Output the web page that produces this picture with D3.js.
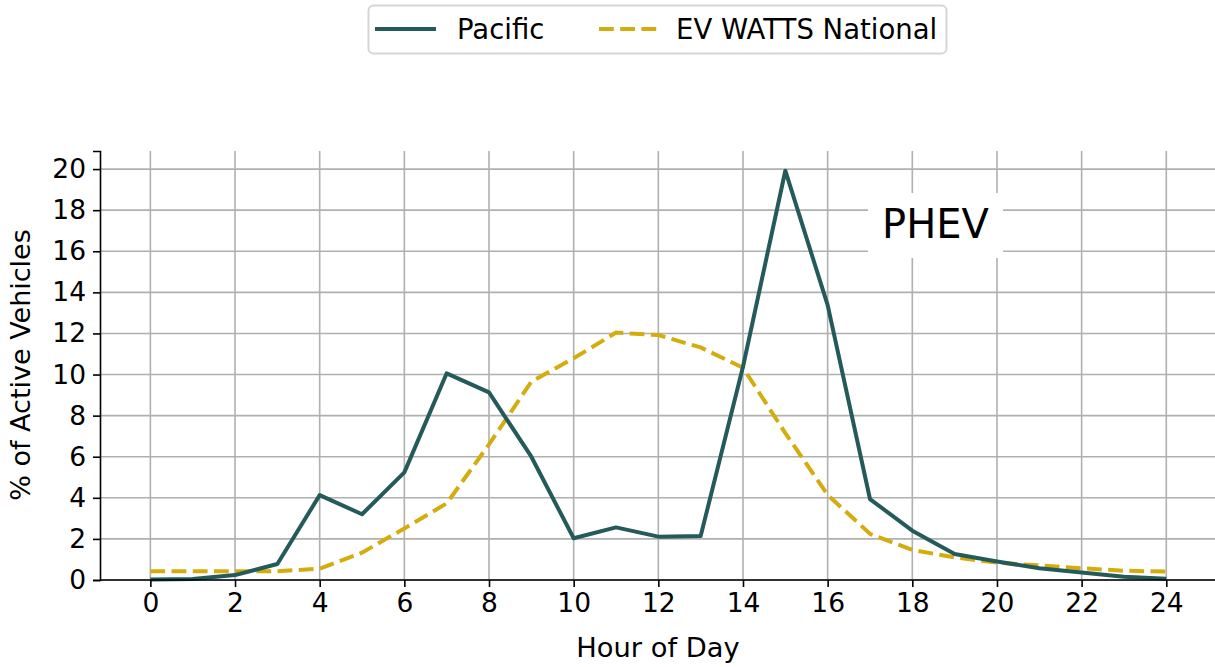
<!DOCTYPE html>
<html>
<head>
<meta charset="utf-8">
<script src="https://cdn.jsdelivr.net/npm/d3@7"></script>
<style>
  body { margin: 0; background: #fff; }
  svg { font-family: "DejaVu Sans", sans-serif; }
</style>
</head>
<body>
<script>
const hours = d3.range(0, 25);
const pacific = [0.03, 0.05, 0.24, 0.78, 4.13, 3.2, 5.24, 10.06, 9.13, 6.0, 2.03, 2.56, 2.11,
                 2.14, 10.38, 19.92, 13.38, 3.94, 2.4, 1.27, 0.9, 0.57, 0.37, 0.16, 0.06];
const national = [0.42, 0.43, 0.42, 0.43, 0.55, 1.33, 2.51, 3.73, 6.6, 9.65, 10.79, 12.04, 11.92,
                  11.32, 10.33, 7.15, 4.14, 2.25, 1.46, 1.1, 0.84, 0.71, 0.57, 0.45, 0.41];
const xTicks = d3.range(0, 25, 2);
const yTicks = d3.range(0, 21, 2);
const seriesNames = ["Pacific", "EV WATTS National"];

const W = 1215, H = 667;
const TEAL = "#245a5a", GOLD = "#d4ac0d";

const x = d3.scaleLinear().domain([-1.19, 25.2]).range([100, 100 + 26.39 * 42.33]);
const y = d3.scaleLinear().domain([0, 20.88]).range([580, 151]);

const svg = d3.select("body").append("svg")
  .attr("width", W)
  .attr("height", H);

// grid
svg.append("g")
  .selectAll("line")
  .data(xTicks)
  .join("line")
    .attr("x1", d => x(d)).attr("x2", d => x(d))
    .attr("y1", y(20.88)).attr("y2", y(0))
    .attr("stroke", "#b0b0b0").attr("stroke-width", 1.6);

svg.append("g")
  .selectAll("line")
  .data(yTicks)
  .join("line")
    .attr("x1", x(-1.19)).attr("x2", W)
    .attr("y1", d => y(d)).attr("y2", d => y(d))
    .attr("stroke", "#b0b0b0").attr("stroke-width", 1.6);

// PHEV label box (hides grid behind it)
svg.append("rect")
  .attr("x", 868).attr("y", 193).attr("width", 135).attr("height", 65)
  .attr("fill", "#fff");
svg.append("text")
  .attr("x", 935.5).attr("y", 238)
  .attr("text-anchor", "middle")
  .attr("font-size", 40)
  .text("PHEV");

// lines
const line = d3.line().x((d, i) => x(hours[i])).y(d => y(d));

svg.append("path")
  .datum(national)
  .attr("d", line)
  .attr("fill", "none")
  .attr("stroke", GOLD)
  .attr("stroke-width", 4)
  .attr("stroke-dasharray", "14.8,6.4");

svg.append("path")
  .datum(pacific)
  .attr("d", line)
  .attr("fill", "none")
  .attr("stroke", TEAL)
  .attr("stroke-width", 4)
  .attr("stroke-linejoin", "round");

// axes
const xAxis = svg.append("g")
  .attr("transform", `translate(0, ${y(0)})`)
  .call(d3.axisBottom(x).tickValues(xTicks).tickSize(7).tickPadding(6));
const yAxis = svg.append("g")
  .attr("transform", `translate(${x(-1.19)}, 0)`)
  .call(d3.axisLeft(y).tickValues(yTicks).tickSize(7).tickPadding(7));

[xAxis, yAxis].forEach(g => {
  g.selectAll(".domain").attr("stroke", "#000").attr("stroke-width", 1.6);
  g.selectAll(".tick line").attr("stroke", "#000").attr("stroke-width", 1.6);
  g.selectAll(".tick text")
    .attr("font-family", "DejaVu Sans")
    .attr("font-size", 26.5)
    .attr("fill", "#000");
});
xAxis.select(".domain").attr("d", `M${x(-1.19)},0H${W}`);

svg.append("text")
  .attr("x", 658).attr("y", 657)
  .attr("text-anchor", "middle")
  .attr("font-size", 27.3)
  .text("Hour of Day");

svg.append("text")
  .attr("transform", `translate(30, 365) rotate(-90)`)
  .attr("text-anchor", "middle")
  .attr("font-size", 27)
  .text("% of Active Vehicles");

// legend
const leg = svg.append("g");
leg.append("rect")
  .attr("x", 368.5).attr("y", 5.5).attr("width", 578).attr("height", 48)
  .attr("rx", 5)
  .attr("fill", "#fff").attr("stroke", "#d6d6d6").attr("stroke-width", 2);
const legItems = [
  { name: seriesNames[0], color: TEAL, dash: null, x0: 375, x1: 436, tx: 457 },
  { name: seriesNames[1], color: GOLD, dash: "14.8,6.4", x0: 599, x1: 657, tx: 676 }
];
legItems.forEach(it => {
  leg.append("line")
    .attr("x1", it.x0).attr("x2", it.x1)
    .attr("y1", 29).attr("y2", 29)
    .attr("stroke", it.color).attr("stroke-width", 4)
    .attr("stroke-dasharray", it.dash);
  leg.append("text")
    .attr("x", it.tx).attr("y", 38.5)
    .attr("font-size", 27.5)
    .text(it.name);
});
</script>
</body>
</html>
